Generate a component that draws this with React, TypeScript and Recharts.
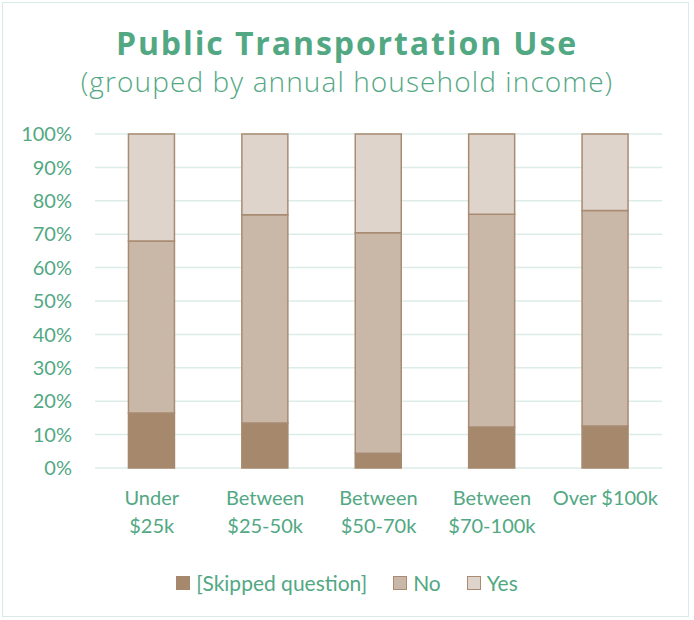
import { BarChart, Bar, XAxis, YAxis, CartesianGrid } from 'recharts';

const categories = ['Under $25k', 'Between $25-50k', 'Between $50-70k', 'Between $70-100k', 'Over $100k'];
const tickLines = [
  ['Under', '$25k'],
  ['Between', '$25-50k'],
  ['Between', '$50-70k'],
  ['Between', '$70-100k'],
  ['Over $100k'],
];
const skipped = [16.5, 13.5, 4.4, 12.3, 12.6];
const no = [51.5, 62.3, 66.0, 63.7, 64.5];
const yes = [32.0, 24.2, 29.6, 24.0, 22.9];
const yTicks = [0, 10, 20, 30, 40, 50, 60, 70, 80, 90, 100];

const data = categories.map((name, i) => ({
  name,
  skipped: skipped[i],
  no: no[i],
  yes: yes[i],
}));

const GREEN = '#52a883';
const FONT = 'Lato, "Open Sans", sans-serif';
const TITLE_FONT = '"Open Sans", Lato, sans-serif';
const EDGE = '#a88b72';

const series = [
  { key: 'skipped', label: '[Skipped question]', fill: '#a6886d', stroke: '#a6886d' },
  { key: 'no', label: 'No', fill: '#c9b8a8', stroke: EDGE },
  { key: 'yes', label: 'Yes', fill: '#ded4cb', stroke: EDGE },
];

const XTick = ({ x, y, index }: any) => {
  const lines = tickLines[index] || [];
  return (
    <text x={x} y={y} textAnchor="middle" fill={GREEN} fontSize={20} fontFamily={FONT}>
      {lines.map((l, i) => (
        <tspan key={i} x={x} dy={i === 0 ? 29 : 28}>{l}</tspan>
      ))}
    </text>
  );
};

export default function App() {
  return (
    <div style={{ position: 'absolute', left: 0, top: 0, width: 694, height: 620, background: '#fff' }}>
      <div
        style={{
          position: 'absolute',
          left: 2,
          top: 2,
          width: 685,
          height: 613,
          border: '1.5px solid #d8ebe4',
        }}
      />
      <div
        style={{
          position: 'absolute',
          top: 22,
          width: 694,
          textAlign: 'center',
          fontFamily: TITLE_FONT,
          color: GREEN,
          fontSize: 32,
          fontWeight: 700,
          letterSpacing: 1.9,
          lineHeight: '42px',
        }}
      >
        Public Transportation Use
      </div>
      <div
        style={{
          position: 'absolute',
          top: 63,
          width: 694,
          textAlign: 'center',
          fontFamily: TITLE_FONT,
          color: GREEN,
          fontSize: 28,
          fontWeight: 300,
          letterSpacing: 1.1,
          lineHeight: '36px',
        }}
      >
        (grouped by annual household income)
      </div>
      <div style={{ position: 'absolute', left: 0, top: 0 }}>
        <BarChart
          width={694}
          height={620}
          data={data}
          margin={{ top: 134, right: 32, bottom: 122, left: 0 }}
          barCategoryGap="29.5%"
        >
          <CartesianGrid vertical={false} stroke="#dcede7" strokeWidth={1.5} />
          <XAxis
            dataKey="name"
            height={30}
            axisLine={false}
            tickLine={false}
            interval={0}
            tick={<XTick />}
          />
          <YAxis
            width={95}
            domain={[0, 100]}
            ticks={yTicks}
            interval={0}
            axisLine={false}
            tickLine={false}
            tickMargin={17}
            tickFormatter={(v: number) => `${v}%`}
            tick={{ fill: GREEN, fontSize: 20, fontFamily: FONT }}
          />
          {series.map((s) => (
            <Bar
              key={s.key}
              dataKey={s.key}
              name={s.label}
              stackId="a"
              fill={s.fill}
              stroke={s.stroke}
              strokeWidth={1.5}
              isAnimationActive={false}
            />
          ))}
        </BarChart>
      </div>
      <div
        style={{
          position: 'absolute',
          top: 569,
          left: 0,
          width: 694,
          display: 'flex',
          justifyContent: 'center',
          gap: 26,
          fontFamily: FONT,
          fontSize: 21,
          lineHeight: '28px',
          color: GREEN,
        }}
      >
        {series.map((s) => (
          <div key={s.key} style={{ display: 'flex', alignItems: 'center', gap: 6 }}>
            <span
              style={{
                display: 'inline-block',
                width: 12,
                height: 12,
                background: s.fill,
                border: `1.5px solid ${s.stroke}`,
              }}
            />
            <span>{s.label}</span>
          </div>
        ))}
      </div>
    </div>
  );
}
